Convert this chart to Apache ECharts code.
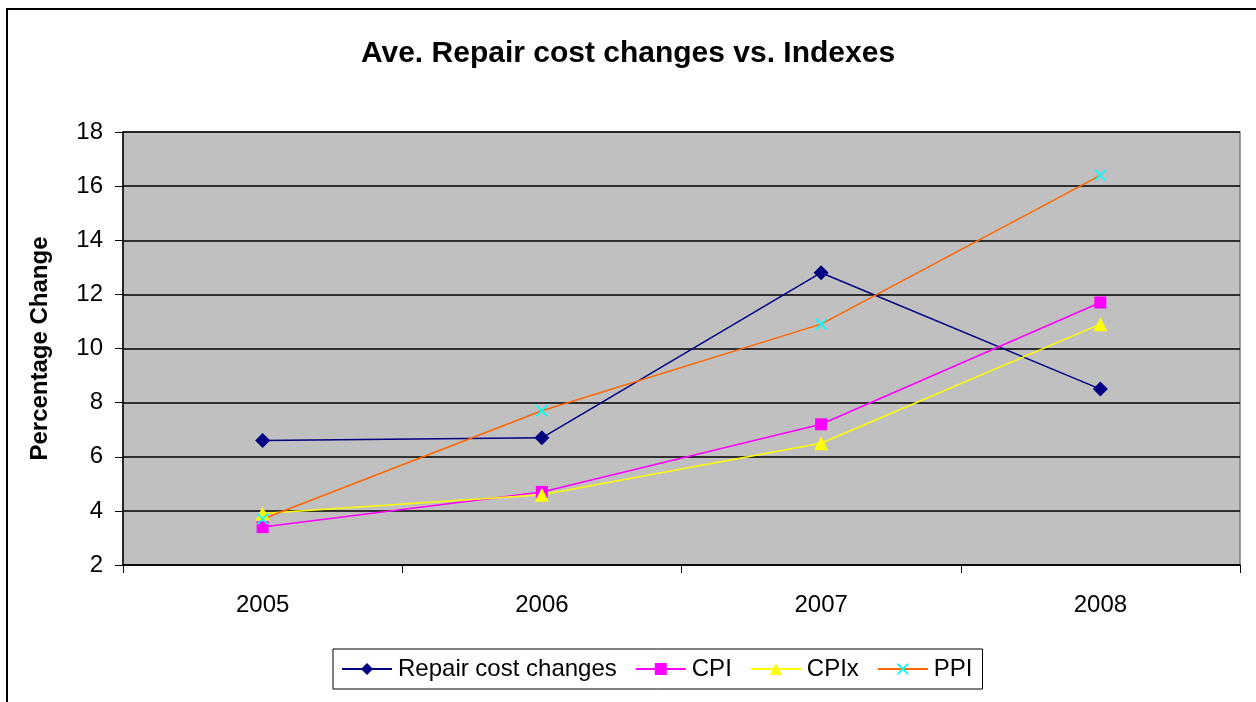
<!DOCTYPE html>
<html>
<head>
<meta charset="utf-8">
<script src="https://cdn.jsdelivr.net/npm/echarts@6/dist/echarts.min.js"></script>
<style>
  html, body { margin: 0; padding: 0; background: #fff; }
  #frame {
    position: absolute; left: 6px; top: 8px;
    width: 1260px; height: 700px;
    border: 2px solid #000; box-sizing: border-box;
  }
  #chart { position: absolute; left: 0; top: 0; width: 1256px; height: 702px; }
</style>
</head>
<body>
<div id="frame"></div>
<div id="chart"></div>
<script>
// data
const years = ['2005', '2006', '2007', '2008']
const repairCost = [6.6, 6.7, 12.8, 8.5]
const cpi = [3.4, 4.7, 7.2, 11.7]
const cpix = [3.9, 4.6, 6.5, 10.9]
const ppi = [3.7, 7.7, 10.9, 16.4]

const font = 'Liberation Sans, Arial, sans-serif'
const xMark = 'path://M0,1L1,0L5,4L9,0L10,1L6,5L10,9L9,10L5,6L1,10L0,9L4,5Z'

const chart = echarts.init(document.getElementById('chart'))

function line (name, data, lineColor, markColor, symbol, size) {
  return {
    name: name,
    type: 'line',
    data: data,
    symbol: symbol,
    symbolSize: size,
    showAllSymbol: true,
    lineStyle: { color: lineColor, width: 1.5 },
    itemStyle: { color: markColor },
    emphasis: { disabled: true },
    z: 3
  }
}

chart.setOption({
  animation: false,
  textStyle: { fontFamily: font },
  title: {
    text: 'Ave. Repair cost changes vs. Indexes',
    left: 'center',
    top: 34,
    textStyle: { fontSize: 30, fontWeight: 'bold', color: '#000', fontFamily: font }
  },
  grid: {
    left: 123, right: 16, top: 132, bottom: 137,
    show: true,
    backgroundColor: '#c0c0c0',
    borderColor: '#808080',
    borderWidth: 1.5
  },
  legend: {
    bottom: 13,
    left: 333,
    itemWidth: 50,
    itemHeight: 15,
    itemGap: 18,
    borderColor: '#000',
    borderWidth: 1,
    padding: [8, 10, 8, 8],
    textStyle: { fontSize: 24, color: '#000', fontFamily: font, padding: [0, 0, 0, 1] },
    data: ['Repair cost changes', 'CPI', 'CPIx', 'PPI']
  },
  xAxis: {
    type: 'category',
    data: years,
    boundaryGap: true,
    axisLine: { lineStyle: { color: '#000', width: 1.5 } },
    axisTick: { show: true, interval: 0, length: 8, lineStyle: { color: '#000' } },
    axisLabel: { fontSize: 24, color: '#000', margin: 28, fontFamily: font }
  },
  yAxis: {
    type: 'value',
    min: 2,
    max: 18,
    interval: 2,
    name: 'Percentage Change',
    nameLocation: 'middle',
    nameGap: 71,
    nameTextStyle: { fontSize: 24, fontWeight: 'bold', color: '#000', fontFamily: font },
    axisLine: { show: true, lineStyle: { color: '#000', width: 1.5 } },
    axisTick: { show: true, length: 8, lineStyle: { color: '#000' } },
    axisLabel: { fontSize: 24, color: '#000', margin: 20, fontFamily: font },
    splitLine: { lineStyle: { color: '#000', width: 1.5 } }
  },
  series: [
    line('Repair cost changes', repairCost, '#000080', '#000080', 'diamond', 15),
    line('CPI', cpi, '#ff00ff', '#ff00ff', 'rect', 12),
    line('CPIx', cpix, '#ffff00', '#ffff00', 'triangle', 14),
    line('PPI', ppi, '#ff6600', '#00ffff', xMark, 12)
  ]
})
</script>
</body>
</html>
